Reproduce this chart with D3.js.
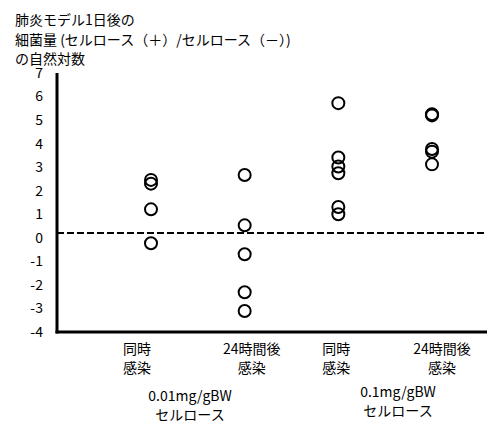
<!DOCTYPE html>
<html>
<head>
<meta charset="utf-8">
<script src="https://cdn.jsdelivr.net/npm/d3@7"></script>
<style>
  body { margin: 0; background: #fff; }
  text { font-family: "Noto Sans CJK JP", "Noto Sans", sans-serif; fill: #000; }
</style>
</head>
<body>
<figure id="scatter" style="margin:0"></figure>
<script>
// chart values
const categories = ["g1", "g2", "g3", "g4"];
const catLabels = [["同時", "感染"], ["24時間後", "感染"], ["同時", "感染"], ["24時間後", "感染"]];
const doseLabels = [["0.01mg/gBW", "セルロース"], ["0.1mg/gBW", "セルロース"]];
const values = [
  [2.46, 2.3, 1.21, -0.23],
  [2.67, 0.53, -0.7, -2.31, -3.11],
  [5.72, 3.41, 3.03, 2.74, 1.31, 1.0],
  [5.25, 5.2, 3.77, 3.66, 3.12]
];
const yTicks = [7, 6, 5, 4, 3, 2, 1, 0, -1, -2, -3, -4];
const refLine = 0.2;
const titleLines = ["肺炎モデル1日後の", "細菌量 (セルロース（＋）/セルロース（－）)", "の自然対数"];

const width = 490, height = 422;
const plotLeft = 57, plotRight = 487, plotTop = 73, plotBottom = 332;

const svg = d3.select("figure#scatter")
  .append("svg")
  .attr("width", width)
  .attr("height", height);

const x = d3.scalePoint()
  .domain(categories)
  .range([151, 432]);

const y = d3.scaleLinear()
  .domain([-4, 7])
  .range([plotBottom, plotTop]);

// title
svg.append("text")
  .attr("x", 15)
  .attr("y", 25)
  .style("font-size", "14px")
  .selectAll("tspan")
  .data(titleLines)
  .enter()
  .append("tspan")
  .attr("x", 15)
  .attr("dy", (d, i) => i === 0 ? 0 : 19.5)
  .text(d => d);

// y tick labels
svg.selectAll(".ytick")
  .data(yTicks)
  .enter()
  .append("text")
  .attr("class", "ytick")
  .attr("x", 43)
  .attr("y", d => y(d))
  .attr("dy", "0.35em")
  .attr("text-anchor", "end")
  .style("font-size", "14px")
  .text(d => d);

// reference line
svg.append("line")
  .attr("x1", plotLeft)
  .attr("x2", 485)
  .attr("y1", y(refLine))
  .attr("y2", y(refLine))
  .style("stroke", "#000")
  .style("stroke-width", 2)
  .style("stroke-dasharray", "7,3");

// axes
svg.append("line")
  .attr("x1", plotLeft).attr("x2", plotLeft)
  .attr("y1", y(7)).attr("y2", y(-4) + 1.5)
  .style("stroke", "#000")
  .style("stroke-width", 3);

svg.append("line")
  .attr("x1", plotLeft - 1.5).attr("x2", plotRight)
  .attr("y1", y(-4)).attr("y2", y(-4))
  .style("stroke", "#000")
  .style("stroke-width", 3);

// points
const pts = [];
values.forEach((arr, i) => arr.forEach(v => pts.push({ c: categories[i], v: v })));

svg.selectAll("circle")
  .data(pts)
  .enter()
  .append("circle")
  .attr("cx", d => x(d.c))
  .attr("cy", d => y(d.v))
  .attr("r", 6)
  .style("fill", "none")
  .style("stroke", "#000")
  .style("stroke-width", 2);

// category labels
const labelShift = [-14, 7, -2, 10];
categories.forEach((c, i) => {
  svg.append("text")
    .attr("text-anchor", "middle")
    .style("font-size", "14px")
    .selectAll("tspan")
    .data(catLabels[i])
    .enter()
    .append("tspan")
    .attr("x", x(c) + labelShift[i])
    .attr("y", (d, j) => 354 + j * 18.5)
    .text(d => d);
});

// dose group labels
const doseX = [190, 398];
const doseY = [401, 397];
doseLabels.forEach((lines, i) => {
  svg.append("text")
    .attr("text-anchor", "middle")
    .style("font-size", "14px")
    .selectAll("tspan")
    .data(lines)
    .enter()
    .append("tspan")
    .attr("x", doseX[i])
    .attr("y", (d, j) => doseY[i] + j * 18.5)
    .text(d => d);
});
</script>
</body>
</html>
